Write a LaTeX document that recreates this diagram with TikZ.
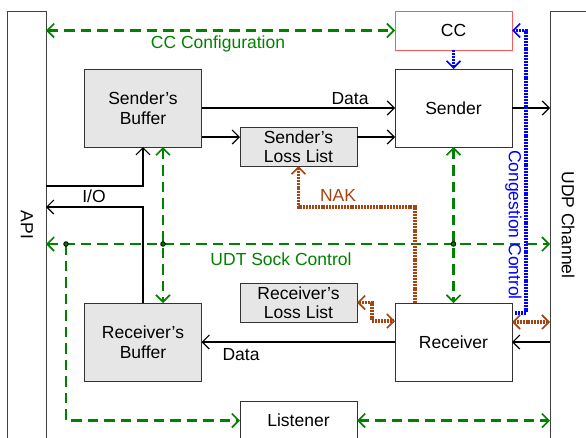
\documentclass[tikz,border=0pt]{standalone}
\usepackage{fontspec}
\setmainfont{Liberation Sans}
\usetikzlibrary{arrows.meta,calc}
\definecolor{ggreen}{RGB}{0,130,0}
\definecolor{bblue}{RGB}{0,0,255}
\definecolor{brn}{RGB}{165,68,14}
\definecolor{boxgray}{RGB}{230,230,230}
\definecolor{ccred}{RGB}{255,90,90}
\newcommand\dfont{\fontsize{17.5}{19.5}\selectfont}
\tikzset{
  box/.style={draw=black!80, line width=1pt, minimum width=117pt, inner sep=0pt, outer sep=0pt, align=center, font=\dfont},
  bigbox/.style={box, minimum height=78pt},
  smallbox/.style={box, minimum height=39pt},
  gbox/.style={fill=boxgray},
  bar/.style={draw=black!75, line width=1pt, inner sep=0pt, outer sep=0pt, minimum height=440pt},
  conn/.style={draw=black, line width=1.2pt, >={Straight Barb[length=7pt,width=14pt,line width=1.2pt]}},
  gdash/.style={draw=ggreen, line width=2.6pt, dash pattern=on 10.5pt off 6pt, >={Straight Barb[length=7pt,width=14pt,line width=1.6pt]}},
  bdot/.style={draw=bblue, line width=3.2pt, dash pattern=on 2pt off 0.9pt, >={Straight Barb[length=7pt,width=14pt,line width=1.6pt]}},
  rdot/.style={draw=brn, line width=3.2pt, dash pattern=on 2pt off 0.9pt, >={Straight Barb[length=7pt,width=14pt,line width=1.6pt]}},
  lab/.style={font=\dfont, inner sep=0pt, anchor=base},
  jdot/.style={circle, fill=ggreen, draw=black, line width=0.9pt, minimum size=4.5pt, inner sep=0pt}
}
\begin{document}
\begin{tikzpicture}[x=1pt,y=-1pt]
\useasboundingbox (0,0) rectangle (586,437);
\clip (0,0) rectangle (586,437);
\fill[white] (0,0) rectangle (586,437);

% side bars
\node[bar, minimum width=39pt] (api) at (26.5,231) {};
\node[bar, minimum width=60pt] (udp) at (580,231) {};
\node[rotate=-90, font=\dfont] (lapi) at (27,225) {API};
\node[rotate=-90, font=\dfont] (ludp) at (568,225) {UDP Channel};

% boxes
\node[smallbox, draw=ccred] (cc) at (453.5,30.5) {CC};
\node[bigbox, fill=white] (snd) at (453.5,108) {Sender};
\node[bigbox, gbox] (sbuf) at (143,108) {Sender’s\\Buffer};
\node[smallbox, gbox] (sll) at (298.5,146.5) {Sender’s\\Loss List};
\node[smallbox, gbox] (rll) at (298.5,302.5) {Receiver’s\\Loss List};
\node[bigbox, gbox] (rbuf) at (143,342) {Receiver’s\\Buffer};
\node[bigbox, fill=white] (rcv) at (453.5,342) {Receiver};
\node[smallbox, fill=white] (lst) at (298.5,420.5) {Listener};

% helper coordinates
\coordinate (sockL) at (api.east |- 0,244);
\coordinate (sockR) at (udp.west |- 0,244);
\coordinate (nakc) at (298.5,207);
\coordinate (rllk) at (372,321);

% green dashed control lines
\draw[gdash,<->] (api.east |- cc.west) -- (cc.west);
\draw[gdash,<->] (sockL) -- (sockR);
\draw[gdash,<->] ([xshift=20pt]sbuf.south) -- ([xshift=20pt]rbuf.north);
\draw[gdash,<->] (snd.south) -- (rcv.north);
\draw[gdash,->] (66,244) |- (lst.west);
\draw[gdash,<->] (lst.east) -- (lst.east -| udp.west);

% black data lines
\draw[conn,->] (sbuf.east) -- (snd.west);
\draw[conn,->] ([yshift=-29pt]sbuf.east) -- ([yshift=-29pt]sbuf.east -| sll.west);
\draw[conn,->] ([yshift=-29pt]snd.west -| sll.east) -- ([yshift=-29pt]snd.west);
\draw[conn,->] (snd.east) -- (snd.east -| udp.west);
\draw[conn,->] (api.east |- 0,186) -| (sbuf.south);
\draw[conn,->] (rbuf.north) |- (api.east |- 0,207);
\draw[conn,->] (udp.west |- rcv.east) -- (rcv.east);
\draw[conn,->] (rcv.west) -- (rbuf.east);

% blue congestion control
\draw[bdot,->] (cc.south) -- (snd.north);
\draw[bdot,->] ([xshift=3pt,yshift=-10pt]rcv.north east) -| ([xshift=14pt]cc.east) -- (cc.east);

% brown NAK lines
\draw[rdot,->] ([xshift=-38.5pt]rcv.north) |- (nakc) -- (sll.south);
\draw[rdot,<->] (rll.east) -| (rllk) -- (rllk -| rcv.west);
\draw[rdot,<->] ([yshift=20pt]rcv.east) -- ([yshift=20pt]rcv.east -| udp.west);

% labels
\node[lab, text=ggreen] (lccc) at (218,48) {CC Configuration};
\node[lab] (ldata1) at (350,104) {Data};
\node[lab] (lio) at (94,202) {I/O};
\node[lab, text=brn] (lnak) at (338,201) {NAK};
\node[lab, text=ggreen] (lsock) at (281,265) {UDT Sock Control};
\node[lab] (ldata2) at (241,360) {Data};
\node[rotate=-90, text=bblue, font=\dfont] (lcong) at (513.5,225) {Congestion Control};

% junction dots
\node[jdot] (j1) at (66,244) {};
\node[jdot] (j2) at (163,244) {};
\node[jdot] (j3) at (453.5,244) {};
\end{tikzpicture}
\end{document}
